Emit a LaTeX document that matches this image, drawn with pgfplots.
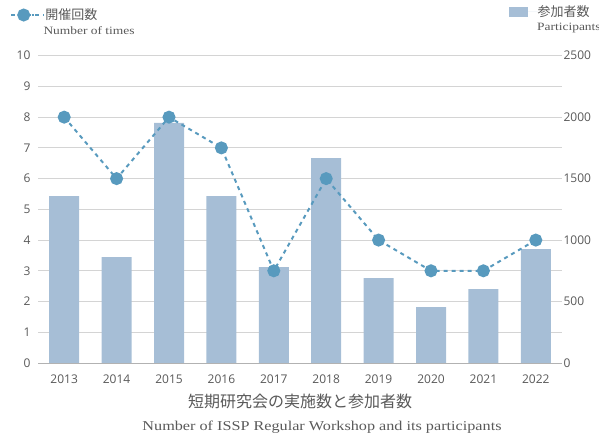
\documentclass[border=0pt]{standalone}
\usepackage{pgfplots}
\pgfplotsset{compat=1.18}
\usepackage{fontspec}
\setmainfont{Open Sans}
\newfontfamily\cjk{Noto Sans CJK JP}
\newfontfamily\enserif[FakeStretch=1.2]{Liberation Serif}
\definecolor{barc}{RGB}{166,190,214}
\definecolor{linec}{RGB}{88,154,190}
\definecolor{txt}{RGB}{89,89,89}
\definecolor{gridc}{RGB}{212,212,212}
\begin{document}
\begin{tikzpicture}
\path[use as bounding box] (0,0) rectangle (599pt,436pt);
% bars: participants (right axis)
\begin{axis}[
  at={(38pt,73pt)}, anchor=south west,
  scale only axis, width=524pt, height=307.3pt,
  xmin=-0.5, xmax=9.5, ymin=0, ymax=2500,
  axis x line*=bottom, axis y line*=right,
  x axis line style={draw=gray!60, line width=0.8pt, -},
  y axis line style={draw=none},
  xtick={0,...,9}, xticklabels={2013,2014,2015,2016,2017,2018,2019,2020,2021,2022},
  ytick={0,500,...,2500}, minor ytick={250,750,...,2250},
  ymajorgrids, yminorgrids,
  major grid style={gridc, line width=0.8pt},
  minor grid style={gridc, line width=0.8pt},
  major tick length=0pt, minor tick length=0pt,
  tick label style={font=\fontsize{12}{14}\selectfont, text=txt},
  yticklabel style={xshift=-2pt},
  xticklabel style={yshift=-8pt},
  /pgf/number format/assume math mode=true,
  /pgf/number format/1000 sep={},
  ybar, bar width=30pt,
  legend style={at={(0.8989,1.1422)}, anchor=west, draw=none, fill=none,
    inner sep=0pt, outer sep=0pt, nodes={inner sep=0pt},
    font=\cjk\fontsize{13}{15}\selectfont, text=txt},
  legend image code/.code={\fill[barc] (0pt,-5.25pt) rectangle (19pt,5.25pt); \path (0pt,0pt) -- (28.7pt,0pt);},
]
\addplot[fill=barc, draw=none] coordinates {
 (0,1358) (1,862) (2,1953) (3,1358) (4,780) (5,1667) (6,691) (7,455) (8,602) (9,927)};
\addlegendentry{参加者数}
\end{axis}
% line: number of times (left axis)
\begin{axis}[
  at={(38pt,73pt)}, anchor=south west,
  scale only axis, width=524pt, height=307.3pt,
  xmin=-0.5, xmax=9.5, ymin=0, ymax=10,
  hide x axis,
  axis y line*=left, y axis line style={draw=none},
  ytick={0,...,10},
  major tick length=0pt,
  tick label style={font=\fontsize{12}{14}\selectfont, text=txt},
  yticklabel style={xshift=-4pt},
  /pgf/number format/assume math mode=true,
  clip=false,
  legend style={at={(-0.0534,1.1324)}, anchor=west, draw=none, fill=none,
    inner sep=0pt, outer sep=0pt, nodes={inner sep=0pt},
    font=\cjk\fontsize{13}{15}\selectfont, text=txt},
  legend image code/.code={
    \draw[linec, line width=2pt, solid] (0pt,0pt) -- (4pt,0pt);
    \draw[linec, line width=2pt, solid] (20.7pt,0pt) -- (23.3pt,0pt);
    \draw[#1, draw=none] plot coordinates {(12.7pt,0pt)};
    \path (0pt,0pt) -- (33.3pt,0pt);},
]
\addplot[linec, line width=2pt, dash pattern=on 4pt off 4pt, mark=*, mark size=5.5pt,
  mark options={solid, fill=linec, draw=none}] coordinates {
 (0,8) (1,6) (2,8) (3,7) (4,3) (5,6) (6,4) (7,3) (8,3) (9,4)};
\addlegendentry{開催回数}
\end{axis}
\node[anchor=base west, inner sep=0pt, text=txt, font=\enserif\fontsize{11.2}{13}\selectfont] at (43.3pt,401pt) {Number of times};
\node[anchor=base west, inner sep=0pt, text=txt, font=\enserif\fontsize{11.2}{13}\selectfont] at (537pt,405pt) {Participants};
\node[anchor=base, inner sep=0pt, text=txt, font=\cjk\fontsize{16}{18}\selectfont] at (300pt,28pt) {短期研究会の実施数と参加者数};
\node[anchor=base, inner sep=0pt, text=txt, font=\enserif\fontsize{13.5}{15}\selectfont] at (322pt,6pt) {Number of ISSP Regular Workshop and its participants};
\end{tikzpicture}
\end{document}
